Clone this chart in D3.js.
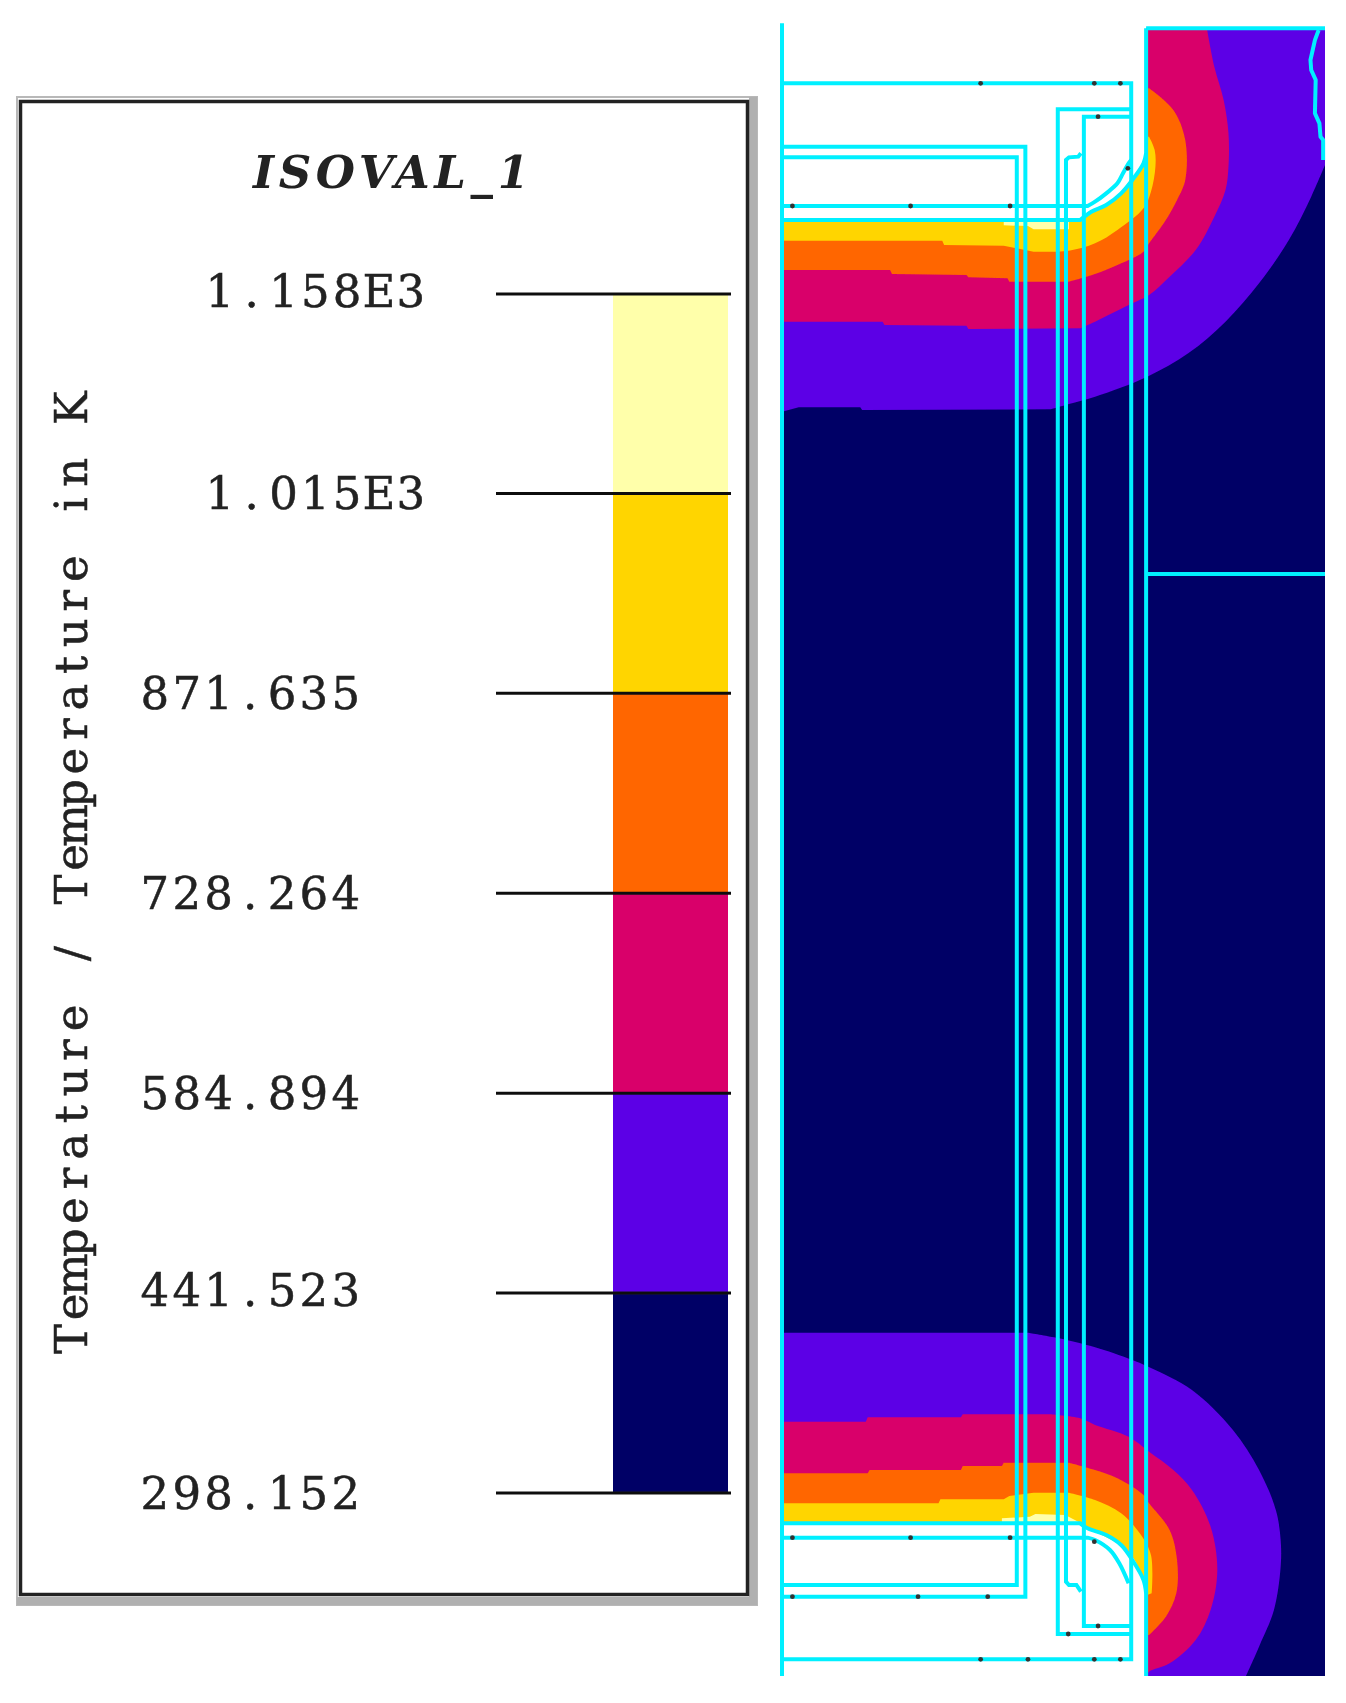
<!DOCTYPE html>
<html>
<head>
<meta charset="utf-8">
<script src="https://cdn.jsdelivr.net/npm/d3@7"></script>
<style>
    html, body { margin: 0; padding: 0; background: #fff; }
    svg { display: block; }
    .legendText { font-family: "DejaVu Serif", serif; font-size: 45px; fill: #222; stroke: #222; stroke-width: 0.5px; }
</style>
</head>
<body>
<script>
//legend values, low to high
var tempLevels = [298.152, 441.523, 584.894, 728.264, 871.635, 1015, 1158];
var levelLabels = ["298.152", "441.523", "584.894", "728.264", "871.635", "1.015E3", "1.158E3"];
var bandColors = ["#000066", "#5c00e6", "#d9006b", "#ff6600", "#ffd500", "#ffffaa"];
var legendTitle = "ISOVAL_1";
var axisTitle = "Temperature / Temperature in K";

//isotherm outlines, in mesh units, one list per colour band
var topPurple = [[60,1235],[105,1222],[270,1222],[275,1230],[780,1228],[830,1212],[900,1190],[1040,1130],[1150,1060],[1250,965],[1340,850],[1420,720],[1480,590],[1517,495],[1517,85],[60,85]];
var topMagenta = [[60,965],[330,965],[335,975],[555,977],[560,987],[860,985],[900,965],[1000,910],[1045,885],[1100,830],[1170,750],[1220,650],[1250,570],[1258,500],[1258,400],[1245,300],[1220,200],[1200,85],[60,85]];
var topOrange = [[60,810],[350,810],[355,822],[555,825],[560,832],[665,835],[670,845],[830,845],[900,822],[960,795],[1030,755],[1045,730],[1090,660],[1120,600],[1142,540],[1142,420],[1110,330],[1045,265],[60,265]];
var topYellow = [[60,722],[490,722],[495,735],[655,737],[735,755],[830,752],[900,730],[960,690],[1030,625],[1050,575],[1062,500],[1060,450],[1045,410],[60,410]];
var topPale = [[655,664],[720,664],[830,664],[830,688],[735,688],[720,678],[655,676]];
var topVoid = [[60,0],[1037,0],[1037,460],[1030,490],[1000,540],[970,580],[930,615],[890,635],[860,660],[60,660]];

var botPurple = [[60,3998],[720,3998],[790,4012],[900,4042],[1000,4080],[1050,4104],[1160,4170],[1270,4290],[1340,4410],[1385,4530],[1398,4620],[1398,4700],[1380,4830],[1340,4940],[1305,5028],[60,5028]];
var botMagenta = [[60,4265],[285,4265],[290,4252],[540,4252],[545,4243],[780,4243],[860,4255],[900,4275],[990,4310],[1045,4355],[1110,4410],[1160,4470],[1210,4580],[1228,4710],[1210,4830],[1170,4920],[1100,4990],[1045,5015],[1037,5028],[60,5028]];
var botOrange = [[60,4420],[290,4420],[295,4410],[540,4410],[545,4398],[650,4398],[655,4388],[830,4388],[900,4410],[960,4435],[1030,4485],[1045,4510],[1100,4590],[1120,4680],[1118,4780],[1090,4850],[1045,4905],[60,4905]];
var botYellow = [[60,4510],[480,4510],[485,4498],[655,4498],[670,4488],[735,4478],[830,4478],[900,4500],[970,4540],[1020,4600],[1050,4665],[1052,4780],[1040,4785],[60,4785]];
var botPale = [[650,4555],[725,4550],[740,4542],[820,4545],[855,4565],[855,4580],[650,4580]];
var botVoid = [[60,4570],[860,4570],[890,4590],[960,4630],[1000,4670],[1030,4740],[1037,4780],[1037,5109],[60,5109]];

//straight mesh lines and node marks, in the same mesh units
var meshLines = [
    [[60,70],[60,5028]],
    [[1037,85],[1037,5028]],
    [[1037,85],[1517,85]],
    [[1037,1722],[1517,1722]],
    [[1500,90],[1490,120],[1478,180],[1480,210],[1492,240],[1490,340],[1502,370],[1505,410],[1512,420],[1512,480]],
    [[60,250],[997,250],[997,4978],[60,4978]],
    [[60,440],[713,440],[713,4790],[60,4790]],
    [[60,472],[690,472],[690,4755],[60,4755]],
    [[997,328],[800,328],[800,4902],[997,4902]],
    [[997,350],[870,350],[870,4878],[997,4878]],
    [[862,460],[855,470],[830,472],[822,480],[822,4745],[830,4755],[850,4755],[862,4775]]
];
//the ones that run flat and then round the corner
var meshArcs = [
    [[60,618],[880,618],[900,605],[930,580],[960,550],[975,520],[990,490],[997,480]],
    [[60,660],[860,660],[890,635],[930,615],[970,580],[1000,540],[1030,490],[1037,460]],
    [[60,4570],[860,4570],[880,4585],[930,4605],[970,4635],[1000,4680],[1030,4740],[1037,4780]],
    [[60,4613],[880,4613],[900,4620],[940,4650],[965,4690],[990,4750]]
];
var meshNodes = [[593,250],[898,250],[968,250],[908,350],[988,505],[88,618],[405,618],[672,618],
    [88,4613],[405,4613],[672,4613],[898,4625],[88,4790],[425,4790],[612,4790],
    [908,4878],[828,4902],[593,4978],[720,4978],[898,4978],[968,4978]];

var width = 1346, height = 1703;

var svg = d3.select("body")
    .append("svg")
    .attr("width", width)
    .attr("height", height);

//the source is a blown up screen grab, so everything is a little soft
svg.append("filter")
    .attr("id", "soft")
    .append("feGaussianBlur")
    .attr("stdDeviation", 0.6);

var root = svg.append("g").attr("filter", "url(#soft)");

setLegend();
setField();

//x list that puts each character in the middle of a fixed width cell, like a terminal font
function monoPositions(str, start, advance) {
    var ctx = document.createElement("canvas").getContext("2d");
    ctx.font = "45px 'DejaVu Serif'";
    return str.split("").map(function (c, i) {
        return (start + (i + 0.5) * advance - ctx.measureText(c).width / 2).toFixed(1);
    }).join(" ");
}

function setLegend() {
    //grey frame behind the legend box
    root.append("rect")
        .attr("x", 17).attr("y", 97)
        .attr("width", 740).attr("height", 1508)
        .attr("fill", "#fff")
        .attr("stroke", "#b8b8b8")
        .attr("stroke-width", 2);
    root.append("rect")
        .attr("x", 749).attr("y", 97)
        .attr("width", 8).attr("height", 1508)
        .attr("fill", "#b0b0b0");
    root.append("rect")
        .attr("x", 17).attr("y", 1597)
        .attr("width", 740).attr("height", 8)
        .attr("fill", "#b0b0b0");
    root.append("rect")
        .attr("x", 20.5).attr("y", 101.5)
        .attr("width", 727).attr("height", 1493)
        .attr("fill", "#fff")
        .attr("stroke", "#222")
        .attr("stroke-width", 3.5);

    var yScale = d3.scaleLinear()
        .domain([tempLevels[0], tempLevels[tempLevels.length - 1]])
        .range([1493, 294]);

    //colour bands
    root.selectAll(".band")
        .data(bandColors)
        .enter()
        .append("rect")
        .attr("class", "band")
        .attr("x", 613)
        .attr("width", 115)
        .attr("y", function (d, i) {
            return yScale(tempLevels[i + 1]);
        })
        .attr("height", function (d, i) {
            return yScale(tempLevels[i]) - yScale(tempLevels[i + 1]);
        })
        .attr("fill", function (d) {
            return d;
        });

    //tick lines
    root.selectAll(".tick")
        .data(tempLevels)
        .enter()
        .append("line")
        .attr("class", "tick")
        .attr("x1", 496)
        .attr("x2", 731)
        .attr("y1", yScale)
        .attr("y2", yScale)
        .attr("stroke", "#111")
        .attr("stroke-width", 3);

    //tick labels, the exponent ones sit further right
    root.selectAll(".levelLabel")
        .data(levelLabels)
        .enter()
        .append("text")
        .attr("class", "levelLabel legendText")
        .attr("x", function (d) {
            return monoPositions(d, d.indexOf("E") > -1 ? 204 : 139, 31.8);
        })
        .attr("y", function (d, i) {
            //two of the labels sit a bit higher in the source
            var nudge = (d == "1.158E3" || d == "441.523") ? -3 : 0;
            return yScale(tempLevels[i]) + 16 + nudge;
        })
        .text(function (d) {
            return d;
        });

    root.append("text")
        .attr("class", "legendText")
        .attr("transform", "translate(87,1355) rotate(-90)")
        .attr("x", monoPositions(axisTitle, 0, 32.1))
        .text(axisTitle);

    root.append("text")
        .attr("x", 253)
        .attr("y", 188)
        .attr("font-family", "DejaVu Serif")
        .attr("font-style", "italic")
        .attr("font-weight", "bold")
        .attr("font-size", 45)
        .attr("fill", "#222")
        .attr("textLength", 276)
        .attr("lengthAdjust", "spacing")
        .text(legendTitle);
}

function setField() {
    var xScale = d3.scaleLinear().domain([60, 1517]).range([782, 1325]);
    var yScale = d3.scaleLinear().domain([0, 5109]).range([0, 1703]);

    var line = d3.line()
        .x(function (d) { return xScale(d[0]); })
        .y(function (d) { return yScale(d[1]); });

    //same thing but rounded, isotherms are smooth in the source
    var smooth = d3.line()
        .x(function (d) { return xScale(d[0]); })
        .y(function (d) { return yScale(d[1]); })
        .curve(d3.curveCatmullRom.alpha(0.5));

    //straight up to point from, rounded from there to point to, straight again after
    function outline(pts, from, to) {
        if (from === undefined) {
            return line(pts);
        }
        var d = line(pts.slice(0, from + 1)) + smooth(pts.slice(from, to + 1)).replace("M", "L");
        if (to < pts.length - 1) {
            d += line(pts.slice(to)).replace("M", "L");
        }
        return d;
    }

    //keep the outlines inside the panel
    svg.append("clipPath")
        .attr("id", "panel")
        .append("rect")
        .attr("x", xScale(60))
        .attr("y", yScale(0))
        .attr("width", xScale(1517) - xScale(60))
        .attr("height", yScale(5028));

    //cold background
    root.append("rect")
        .attr("x", xScale(60))
        .attr("y", yScale(85))
        .attr("width", xScale(1517) - xScale(60))
        .attr("height", yScale(5028) - yScale(85))
        .attr("fill", bandColors[0]);

    //isotherm bands, hottest last
    var bands = [
        { pts: topPurple, color: bandColors[1], from: 4, to: 13 },
        { pts: topMagenta, color: bandColors[2], from: 5, to: 17 },
        { pts: topOrange, color: bandColors[3], from: 7, to: 17 },
        { pts: topYellow, color: bandColors[4], from: 4, to: 12 },
        { pts: topPale, color: bandColors[5] },
        { pts: botPurple, color: bandColors[1], from: 1, to: 14 },
        { pts: botMagenta, color: bandColors[2], from: 5, to: 18 },
        { pts: botOrange, color: bandColors[3], from: 7, to: 16 },
        { pts: botYellow, color: bandColors[4], from: 6, to: 11 },
        { pts: botPale, color: bandColors[5] },
        { pts: topVoid, color: "#fff", from: 2, to: 8 },
        { pts: botVoid, color: "#fff", from: 1, to: 6 }
    ];

    root.append("g")
        .attr("clip-path", "url(#panel)")
        .selectAll(".isoBand")
        .data(bands)
        .enter()
        .append("path")
        .attr("class", "isoBand")
        .attr("d", function (d) {
            return outline(d.pts, d.from, d.to) + "Z";
        })
        .attr("fill", function (d) {
            return d.color;
        });

    root.selectAll(".meshLine")
        .data(meshLines)
        .enter()
        .append("path")
        .attr("class", "meshLine")
        .attr("d", line)
        .attr("fill", "none")
        .attr("stroke", "#00f0ff")
        .attr("stroke-width", 4);

    root.selectAll(".meshArc")
        .data(meshArcs)
        .enter()
        .append("path")
        .attr("class", "meshArc")
        .attr("d", function (d) {
            return outline(d, 1, d.length - 1);
        })
        .attr("fill", "none")
        .attr("stroke", "#00f0ff")
        .attr("stroke-width", 4);

    root.selectAll(".meshNode")
        .data(meshNodes)
        .enter()
        .append("circle")
        .attr("class", "meshNode")
        .attr("cx", function (d) { return xScale(d[0]); })
        .attr("cy", function (d) { return yScale(d[1]); })
        .attr("r", 2.4)
        .attr("fill", "#333");
}
</script>
</body>
</html>
